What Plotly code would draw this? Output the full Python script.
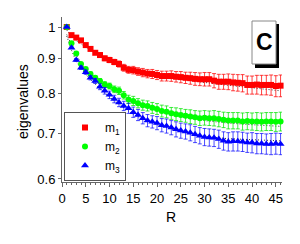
import plotly.graph_objects as go

R = list(range(1, 47))

m1 = [1.0, 0.973, 0.965, 0.956, 0.941, 0.929, 0.917, 0.910, 0.900, 0.895,
      0.889, 0.883, 0.872, 0.866, 0.865, 0.861, 0.858, 0.855, 0.854, 0.851,
      0.848, 0.848, 0.848, 0.846, 0.845, 0.843, 0.842, 0.840, 0.839, 0.839,
      0.839, 0.835, 0.832, 0.832, 0.832, 0.830, 0.829, 0.828, 0.823, 0.823,
      0.824, 0.823, 0.823, 0.823, 0.820, 0.821]
m2 = [1.0, 0.947, 0.915, 0.883, 0.868, 0.854, 0.843, 0.834, 0.824, 0.820,
      0.811, 0.807, 0.795, 0.784, 0.780, 0.774, 0.769, 0.767, 0.762, 0.759,
      0.754, 0.752, 0.748, 0.746, 0.744, 0.742, 0.740, 0.738, 0.736, 0.737,
      0.736, 0.736, 0.734, 0.732, 0.730, 0.730, 0.730, 0.728, 0.729, 0.728,
      0.728, 0.727, 0.728, 0.728, 0.727, 0.728]
m3 = [1.0, 0.933, 0.895, 0.872, 0.859, 0.843, 0.834, 0.818, 0.807, 0.796,
      0.785, 0.776, 0.767, 0.761, 0.751, 0.744, 0.736, 0.730, 0.727, 0.724,
      0.719, 0.717, 0.713, 0.709, 0.706, 0.704, 0.701, 0.697, 0.694, 0.691,
      0.690, 0.689, 0.686, 0.682, 0.680, 0.681, 0.681, 0.680, 0.678, 0.678,
      0.676, 0.676, 0.675, 0.675, 0.676, 0.675]

e1 = [0, 0.002, 0.003, 0.003, 0.004, 0.005, 0.005, 0.006, 0.007, 0.008,
      0.008, 0.009, 0.010, 0.010, 0.011, 0.011, 0.012, 0.012, 0.013, 0.013,
      0.014, 0.014, 0.015, 0.015, 0.016, 0.016, 0.017, 0.018, 0.018, 0.019,
      0.019, 0.020, 0.021, 0.021, 0.022, 0.023, 0.023, 0.024, 0.025, 0.025,
      0.026, 0.027, 0.027, 0.028, 0.029, 0.030]
e2 = [0, 0.003, 0.004, 0.004, 0.005, 0.006, 0.006, 0.007, 0.008, 0.008,
      0.009, 0.010, 0.010, 0.011, 0.012, 0.012, 0.013, 0.013, 0.014, 0.014,
      0.015, 0.015, 0.015, 0.016, 0.016, 0.016, 0.017, 0.017, 0.018, 0.018,
      0.018, 0.019, 0.019, 0.019, 0.020, 0.020, 0.020, 0.021, 0.021, 0.021,
      0.022, 0.022, 0.022, 0.022, 0.023, 0.023]
e3 = [0, 0.003, 0.004, 0.005, 0.006, 0.006, 0.007, 0.008, 0.009, 0.010,
      0.010, 0.011, 0.012, 0.013, 0.013, 0.014, 0.014, 0.015, 0.015, 0.016,
      0.016, 0.017, 0.017, 0.018, 0.018, 0.018, 0.019, 0.019, 0.019, 0.020,
      0.020, 0.020, 0.021, 0.021, 0.021, 0.022, 0.022, 0.022, 0.022, 0.023,
      0.023, 0.023, 0.023, 0.024, 0.024, 0.024]

R_fit = [1, 2, 3, 5, 8, 10, 15, 20, 25, 30, 35, 40, 46]
fit1 = [0.990, 0.968, 0.955, 0.935, 0.905, 0.890, 0.862, 0.848, 0.838, 0.830, 0.822, 0.815, 0.807]
fit2 = [0.975, 0.940, 0.910, 0.865, 0.828, 0.813, 0.775, 0.755, 0.740, 0.730, 0.724, 0.720, 0.716]
fit3 = [0.970, 0.925, 0.890, 0.852, 0.812, 0.790, 0.745, 0.720, 0.703, 0.692, 0.687, 0.684, 0.682]

y_ticks = [0.6, 0.7, 0.8, 0.9, 1.0]
y_ticktext = ["0.6", "0.7", "0.8", "0.9", "1"]

# page is shown with an 8px body margin; compensate so the plot sits where the reference has it
OFF = 8
W, H = 300 - OFF, 244 - OFF
PLOT_L, PLOT_R, PLOT_T, PLOT_B = 62, 282, 17, 182   # page pixel coordinates of plot area
L, T = PLOT_L - OFF, PLOT_T - OFF
PW, PH = PLOT_R - PLOT_L, PLOT_B - PLOT_T
RM, B = W - L - PW, H - T - PH

def px(x):
    return (x - PLOT_L) / PW

def py(y):
    return (PLOT_B - y) / PH

FONT = "Liberation Sans, Arial, sans-serif"

fig = go.Figure()

for fx, fy in [(R_fit, fit1), (R_fit, fit2), (R_fit, fit3)]:
    fig.add_trace(go.Scatter(x=fx, y=fy, mode="lines", showlegend=False,
                             line=dict(color="#333333", width=1, dash="1px,2px"),
                             hoverinfo="skip", cliponaxis=False))

series = [
    ("m<sub>1</sub>", m1, e1, "#ff0000", "rgba(255,0,0,0.75)", "square", 6),
    ("m<sub>2</sub>", m2, e2, "#00ff00", "rgba(0,230,0,0.75)", "circle", 6),
    ("m<sub>3</sub>", m3, e3, "#0000ff", "rgba(0,0,255,0.7)", "triangle-up", 7),
]
for name, ys, es, col, ecol, sym, sz in series:
    fig.add_trace(go.Scatter(
        x=R, y=ys, mode="markers", name=name, cliponaxis=False,
        marker=dict(color=col, symbol=sym, size=sz, line=dict(width=0)),
        error_y=dict(type="data", array=es, visible=True, color=ecol,
                     thickness=1, width=2),
    ))

fig.update_layout(
    width=W, height=H,
    margin=dict(l=L, r=RM, t=T, b=B, pad=0, autoexpand=False),
    paper_bgcolor="white", plot_bgcolor="white",
    font=dict(family=FONT, size=13, color="black"),
    showlegend=True,
    legend=dict(x=px(64), y=py(181), xanchor="left", yanchor="bottom",
                bgcolor="white", bordercolor="#555555", borderwidth=1,
                font=dict(size=12), tracegroupgap=0),
    xaxis=dict(range=[0, 46.3], tickmode="linear", tick0=0, dtick=5,
               ticks="outside", ticklen=4, tickcolor="#666666",
               showline=True, linecolor="#666666", linewidth=1,
               showgrid=False, zeroline=False, automargin=False,
               minor=dict(dtick=1, ticks="outside", ticklen=2, tickcolor="#666666", showgrid=False),
               tickfont=dict(size=13)),
    yaxis=dict(type="log", range=[-0.2263, 0.0146],
               tickvals=y_ticks, ticktext=y_ticktext,
               ticks="outside", ticklen=3, tickcolor="#666666",
               showline=True, linecolor="#666666", linewidth=1,
               showgrid=False, zeroline=False, automargin=False,
               tickfont=dict(size=13)),
    shapes=[
        dict(type="rect", xref="paper", yref="paper",
             x0=px(255), x1=px(279), y0=py(68), y1=py(24),
             fillcolor="black", line=dict(width=0), layer="above"),
        dict(type="rect", xref="paper", yref="paper",
             x0=px(252), x1=px(276), y0=py(64), y1=py(21),
             fillcolor="white", line=dict(color="#888888", width=1), layer="above"),
    ],
    annotations=[
        dict(text="<b>C</b>", xref="paper", yref="paper",
             x=px(264), y=py(42), xanchor="center", yanchor="middle",
             showarrow=False, font=dict(size=23, color="black", family=FONT)),
        dict(text="eigenvalues", xref="paper", yref="paper",
             x=px(23), y=py(102), xanchor="center", yanchor="middle",
             textangle=-90, showarrow=False, font=dict(size=14, color="black")),
        dict(text="R", xref="paper", yref="paper",
             x=px(171), y=py(217), xanchor="center", yanchor="middle",
             showarrow=False, font=dict(size=14, color="black")),
    ],
)

fig.write_html("out.html")
